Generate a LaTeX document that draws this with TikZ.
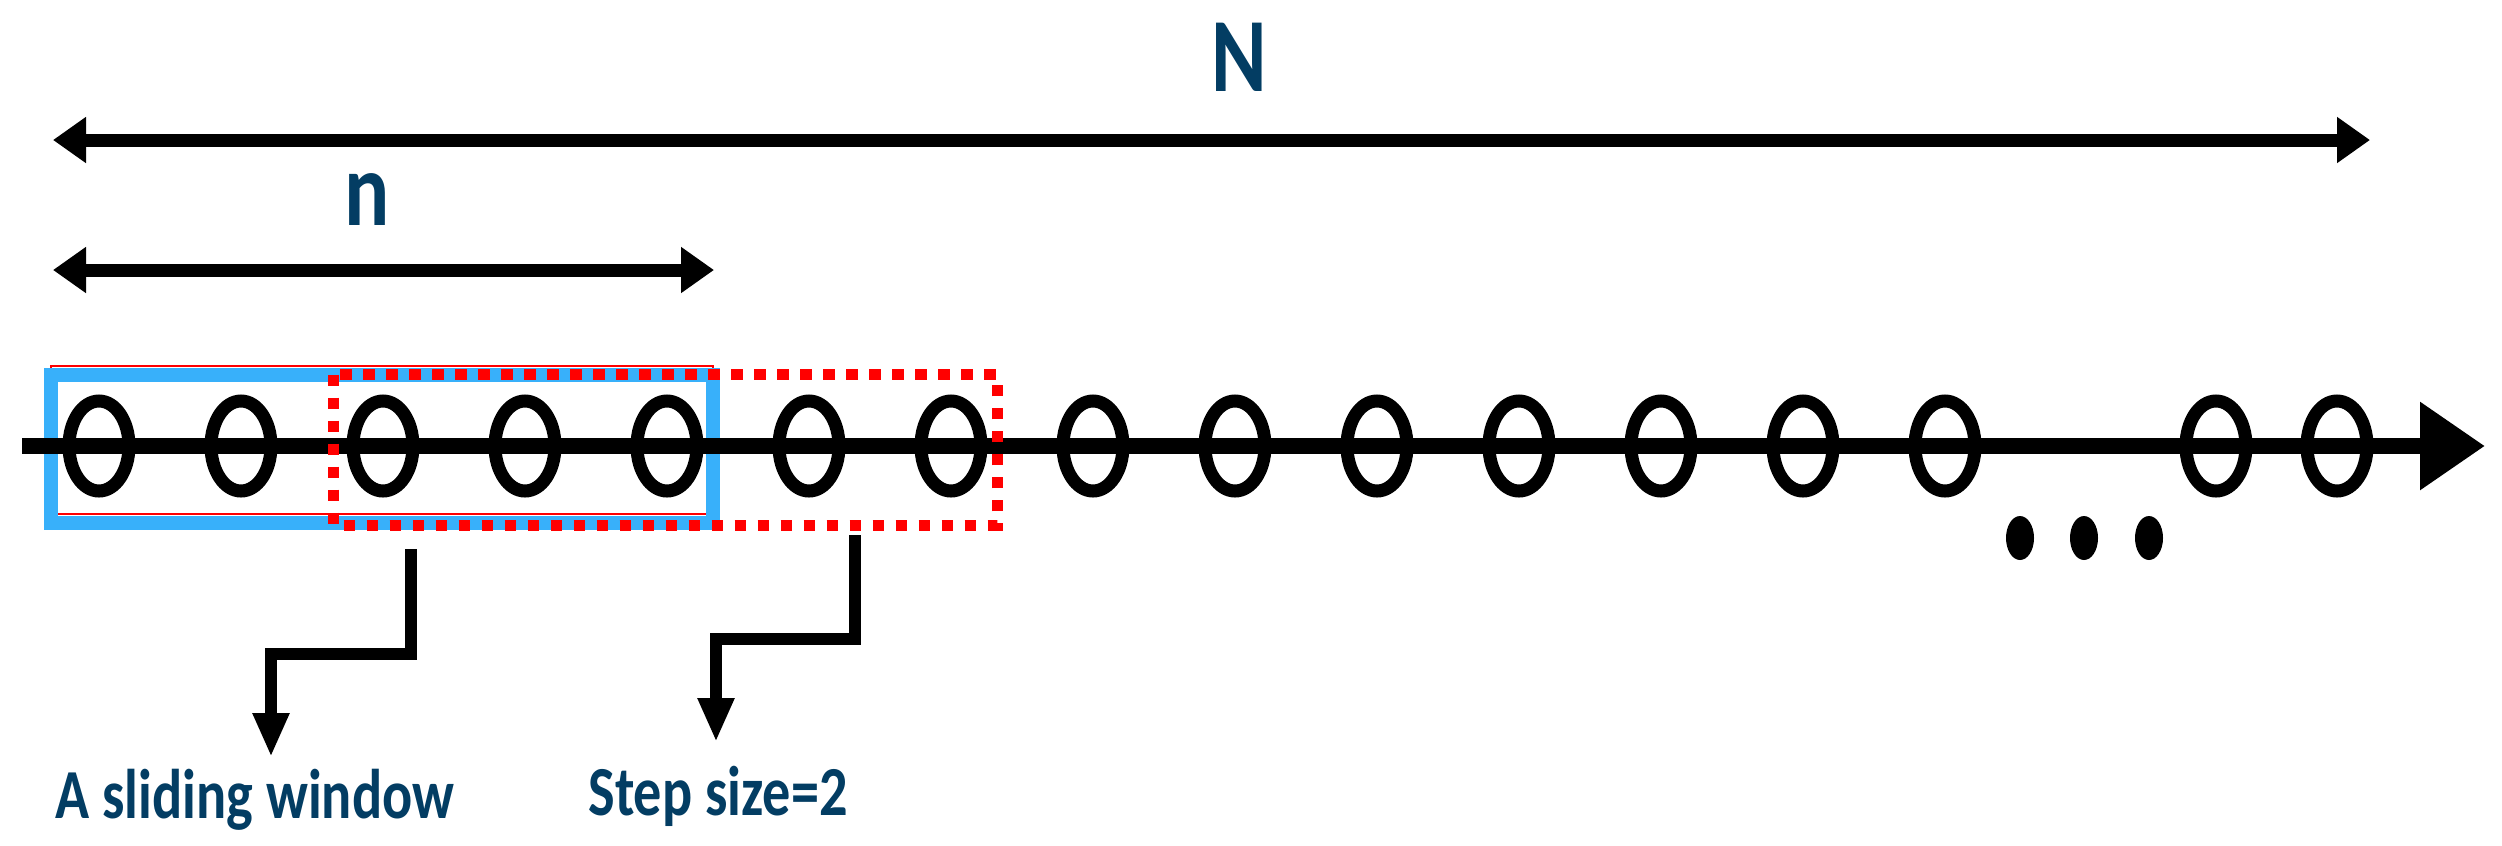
\documentclass[tikz,border=0pt]{standalone}
\usepackage{fontspec}
\setmainfont{Carlito}
\usetikzlibrary{arrows.meta,shapes.geometric}
\definecolor{labelblue}{RGB}{3,61,99}
\definecolor{winblue}{RGB}{56,176,250}
\definecolor{winred}{RGB}{255,0,0}
\begin{document}
\begin{tikzpicture}[x=1cm,y=-1cm]
  \useasboundingbox (0,0) rectangle (25.02,8.45);
  \tikzset{
    sample/.style={ellipse,draw=black,line width=0.13cm,minimum width=0.60cm,minimum height=0.90cm,inner sep=0pt},
    dotmark/.style={ellipse,fill=black,minimum width=0.28cm,minimum height=0.44cm,inner sep=0pt},
    dimline/.style={line width=0.13cm,{Triangle[length=0.33cm,width=0.44cm]}-{Triangle[length=0.33cm,width=0.44cm]}},
    pointer/.style={line width=0.125cm,-{Triangle[length=0.44cm,width=0.34cm]}},
    txt/.style={text=labelblue,font=\bfseries\fontsize{20}{24}\selectfont,xscale=0.8,anchor=base,inner sep=0pt},
    bigtxt/.style={txt,font=\bfseries\fontsize{30}{36}\selectfont}
  }
  % window corners
  \coordinate (thinNW) at (0.51,3.66);
  \coordinate (thinSE) at (7.13,5.14);
  \coordinate (blueNW) at (0.51,3.745);
  \coordinate (blueSE) at (7.13,5.225);
  \coordinate (redNW) at (3.33,3.745);
  \coordinate (redSE) at (9.97,5.25);
  \draw[winred,line width=0.6pt] (thinNW) rectangle (thinSE);
  \draw[winblue,line width=0.14cm] (blueNW) rectangle (blueSE);
  % time axis
  \coordinate (axisL) at (0.22,4.46);
  \coordinate (axisR) at (24.85,4.46);
  \draw[line width=0.16cm,-{Triangle[length=0.65cm,width=0.84cm]}] (axisL) -- (axisR);
  \foreach \i in {0,...,13}
    \node[sample] (s\i) at ({0.99+1.42*\i},4.46) {};
  \node[sample] (s14) at (22.16,4.46) {};
  \node[sample] (s15) at (23.37,4.46) {};
  \foreach \i/\x in {1/20.20,2/20.84,3/21.49}
    \node[dotmark] (more\i) at (\x,5.38) {};
  \draw[winred,line width=0.11cm,dash pattern=on 0.115cm off 0.115cm] (redNW) rectangle (redSE);
  % lengths
  \coordinate (NL) at (0.53,1.40);
  \coordinate (NR) at (23.70,1.40);
  \draw[dimline] (NL) -- (NR);
  \node[bigtxt] (Nlab) at (12.39,0.91) {N};
  \coordinate (nL) at (0.53,2.70);
  \coordinate (nR) at (7.14,2.70);
  \draw[dimline] (nL) -- (nR);
  \node[bigtxt] (nlab) at (3.67,2.25) {n};
  % pointers
  \coordinate (p1a) at (4.11,5.49);
  \coordinate (p1b) at (4.11,6.54);
  \coordinate (p1c) at (2.71,6.54);
  \coordinate (p1d) at (2.71,7.57);
  \draw[pointer] (p1a) -- (p1b) -- (p1c) -- (p1d);
  \node[txt] (slide) at (2.55,8.18) {A sliding window};
  \coordinate (p2a) at (8.55,5.35);
  \coordinate (p2b) at (8.55,6.39);
  \coordinate (p2c) at (7.16,6.39);
  \coordinate (p2d) at (7.16,7.42);
  \draw[pointer] (p2a) -- (p2b) -- (p2c) -- (p2d);
  \node[txt] (stepsz) at (7.18,8.15) {Step size=2};
\end{tikzpicture}
\end{document}
